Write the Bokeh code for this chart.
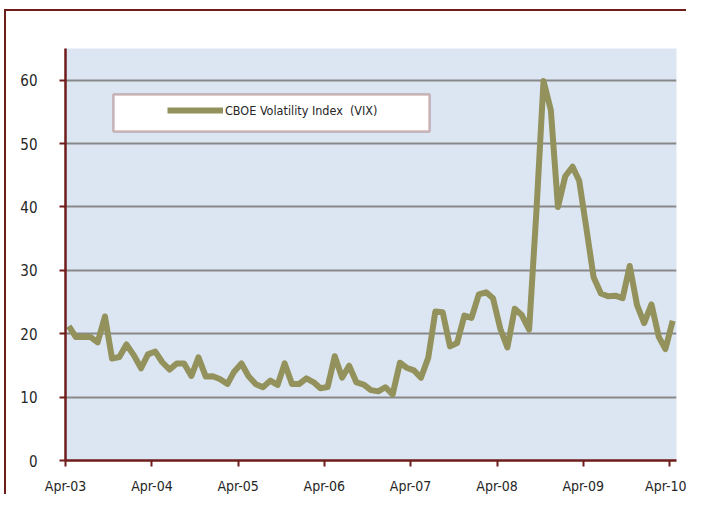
import pandas as pd
from bokeh.plotting import figure
from bokeh.models import (Range1d, FixedTicker, DatetimeTickFormatter, Legend, LegendItem,
                          BoxAnnotation, ColumnDataSource)
from bokeh.embed import file_html
from bokeh.resources import INLINE

# ---- data (monthly VIX, Apr-2003 .. Apr-2010) ----
vix = [
    21.21, 19.47, 19.52, 19.49, 18.63, 22.72, 16.10, 16.32, 18.31,            # 2003 Apr-Dec
    16.63, 14.55, 16.74, 17.19, 15.50, 14.34, 15.32, 15.29, 13.34, 16.27, 13.24, 13.29,  # 2004
    12.82, 12.08, 14.02, 15.31, 13.29, 12.04, 11.57, 12.60, 11.92, 15.32, 12.06, 12.07,  # 2005
    12.95, 12.34, 11.39, 11.59, 16.44, 13.08, 14.95, 12.31, 11.98, 11.10, 10.91, 11.56,  # 2006
    10.42, 15.42, 14.64, 14.22, 13.05, 16.23, 23.52, 23.38, 18.00, 18.53, 22.87, 22.50,  # 2007
    26.20, 26.54, 25.61, 20.79, 17.83, 23.95, 22.94, 20.65, 39.39, 59.89, 55.28, 40.00,  # 2008
    44.84, 46.35, 44.14, 36.50, 28.92, 26.35, 25.92, 26.01, 25.61, 30.69, 24.51, 21.68,  # 2009
    24.62, 19.50, 17.59, 22.05,                                                  # 2010 Jan-Apr
]
months = pd.date_range("2003-04-01", periods=len(vix), freq="MS") + pd.Timedelta(days=14)
tick_dates = pd.to_datetime(["2003-04-01", "2004-04-01", "2005-04-01", "2006-04-01",
                             "2007-04-01", "2008-04-01", "2009-04-01", "2010-04-01"])
y_ticks = [0, 10, 20, 30, 40, 50, 60]
series_name = "CBOE Volatility Index  (VIX)"

FONT = "DejaVu Sans Condensed"
DARKRED = "#6f1d1b"
OLIVE = "#93925c"

src = ColumnDataSource(dict(x=months, y=vix))

p = figure(width=682, height=485, output_backend="svg", toolbar_location=None,
           x_axis_type="datetime",
           x_range=Range1d(pd.Timestamp("2003-04-01"), pd.Timestamp("2010-05-01")),
           y_range=Range1d(0, 65),
           min_border_left=59, min_border_right=12, min_border_top=37, min_border_bottom=35,
           styles={"border-top": f"2px solid {DARKRED}", "border-left": f"2px solid {DARKRED}",
                   "margin-left": "4px", "margin-top": "9px"})

p.background_fill_color = "#dce6f2"
p.border_fill_color = "white"
p.outline_line_color = None

# grid
p.xgrid.grid_line_color = None
p.ygrid.grid_line_color = "#888888"
p.ygrid.grid_line_width = 2
p.ygrid.ticker = FixedTicker(ticks=y_ticks)

# axes
p.yaxis.ticker = FixedTicker(ticks=y_ticks)
p.xaxis.ticker = FixedTicker(ticks=[d.value // 10**6 for d in tick_dates])
p.xaxis.formatter = DatetimeTickFormatter(days="%b-%y", months="%b-%y", years="%b-%y")
for ax in (p.xaxis[0], p.yaxis[0]):
    ax.axis_line_color = DARKRED
    ax.axis_line_width = 2.5
    ax.major_tick_line_color = DARKRED
    ax.major_tick_line_width = 2
    ax.major_tick_in = 0
    ax.major_tick_out = 6
    ax.minor_tick_line_color = None
    ax.major_label_text_font = FONT
    ax.major_label_text_font_size = "14px"
    ax.major_label_text_color = "#262626"
p.yaxis.major_label_text_font_size = "15px"
p.yaxis.major_label_standoff = 22
p.xaxis.major_label_standoff = 11

r = p.line("x", "y", source=src, line_color=OLIVE, line_width=6, line_join="round")

# legend box
box = BoxAnnotation(left=105, right=421, top=81, bottom=118,
                    left_units="canvas", right_units="canvas", top_units="canvas", bottom_units="canvas",
                    fill_color="white", fill_alpha=1.0, line_color=DARKRED, line_width=2.5)
p.add_layout(box)

legend = Legend(items=[LegendItem(label=series_name, renderers=[r])],
                location=(102, 340), padding=0, margin=0, spacing=0,
                glyph_width=56, glyph_height=20, label_height=20, label_standoff=2,
                background_fill_alpha=0, border_line_alpha=0,
                label_text_font=FONT, label_text_font_size="12.5px", label_text_color="#262626")
p.add_layout(legend)

open("out.html", "w").write(file_html(p, INLINE))
